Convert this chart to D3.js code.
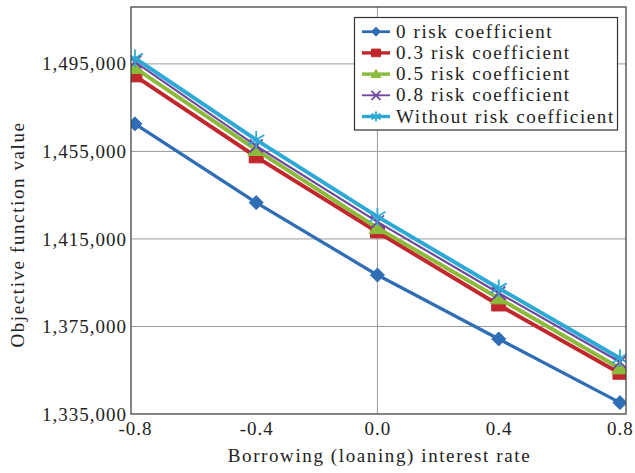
<!DOCTYPE html>
<html><head><meta charset="utf-8">
<script src="https://cdn.jsdelivr.net/npm/d3@7"></script>
<style>body{margin:0;background:#fff}svg{display:block}text{font-family:"Liberation Serif",serif;fill:#222}</style>
</head><body>
<svg id="c" width="635" height="473"></svg>
<script>
const xValues = [-0.8, -0.4, 0.0, 0.4, 0.8];
const seriesNames = ["0 risk coefficient","0.3 risk coefficient","0.5 risk coefficient","0.8 risk coefficient","Without risk coefficient"];
const risk0 =      [1467600, 1431600, 1398500, 1369300, 1340200];
const risk03 =     [1489500, 1452500, 1418200, 1384800, 1353600];
const risk05 =     [1493200, 1455700, 1420000, 1387900, 1355900];
const risk08 =     [1495900, 1457500, 1422800, 1390300, 1358800];
const riskNone =   [1497600, 1460300, 1425200, 1392500, 1360500];
const yTicks = [1335000, 1375000, 1415000, 1455000, 1495000];
const xTicks = [-0.8, -0.4, 0.0, 0.4, 0.8];

const colors = ["#2f6db5","#c1272d","#8cbb3c","#7048a0","#2ca9d4"];
const markers = ["diamond","square","triangle","cross","star"];
const widths = [3.3, 4, 4, 2.2, 4];
const allSeries = [risk0, risk03, risk05, risk08, riskNone];

const svg = d3.select("#c");
const L=131, R=626, T=7, B=414;
const x = d3.scaleLinear().domain([-0.813, 0.82]).range([L, R]);
const y = d3.scaleLinear().domain([1335000, 1521000]).range([B, T]);

svg.append("defs").append("clipPath").attr("id","clip")
  .append("rect").attr("x",L).attr("y",T).attr("width",R-L).attr("height",B-T);

// grid
const g = svg.append("g");
g.selectAll(".hg").data(yTicks.slice(1)).join("line")
  .attr("x1",L).attr("x2",R).attr("y1",d=>y(d)).attr("y2",d=>y(d))
  .attr("stroke","#999").attr("stroke-width",1);
g.append("line").attr("x1",x(0)).attr("x2",x(0)).attr("y1",T).attr("y2",B)
  .attr("stroke","#999").attr("stroke-width",1);

// axes labels via d3 axes
const fmt = d3.format(",");
const yAxis = svg.append("g").attr("transform",`translate(${L},0)`)
  .call(d3.axisLeft(y).tickValues(yTicks).tickFormat(fmt).tickSize(0).tickPadding(4));
yAxis.select(".domain").remove();
yAxis.selectAll("text").style("font-family","Liberation Serif").style("font-size","19px")
  .style("letter-spacing","1px").attr("fill","#222");

const xAxis = svg.append("g").attr("transform",`translate(0,${B})`)
  .call(d3.axisBottom(x).tickValues(xTicks).tickFormat(d=>d3.format(".1f")(d).replace("\u2212","-")).tickSize(0).tickPadding(8));
xAxis.select(".domain").remove();
xAxis.selectAll("text").style("font-family","Liberation Serif").style("font-size","19px")
  .style("letter-spacing","1px").attr("fill","#222");

// lines
const plot = svg.append("g").attr("clip-path","url(#clip)");
const line = d3.line().x((d,i)=>x(xValues[i])).y(d=>y(d));

function markerPath(type, s){
  switch(type){
    case "diamond": return `M0,${-s}L${s},0L0,${s}L${-s},0Z`;
    case "square": return `M${-s},${-s*0.85}H${s}V${s*0.85}H${-s}Z`;
    case "triangle": return `M0,${-s}L${s*1.1},${s*0.75}L${-s*1.1},${s*0.75}Z`;
    case "cross": return `M${-s},${-s}L${s},${s}M${-s},${s}L${s},${-s}`;
    case "star": return `M${-s},${-s*0.6}L${s},${s*0.6}M${-s},${s*0.6}L${s},${-s*0.6}M0,${-s*1.1}V${s*1.1}`;
  }
}
function drawMarker(sel, i, s){
  const t = markers[i];
  const open = (t==="cross"||t==="star");
  sel.append("path").attr("d",markerPath(t,s))
    .attr("fill", open?"none":colors[i])
    .attr("stroke",colors[i]).attr("stroke-width", open?1.8:1)
    .attr("stroke-linejoin","miter");
}
const msize = [7, 7, 7.5, 6.5, 8];
allSeries.forEach((vals,i)=>{
  plot.append("path").datum(vals).attr("d",line).attr("fill","none")
    .attr("stroke",colors[i]).attr("stroke-width",widths[i]).attr("stroke-linejoin","round");
  vals.forEach((v,j)=>{
    const m = plot.append("g").attr("transform",`translate(${x(xValues[j])},${y(v)})`);
    drawMarker(m,i,msize[i]);
  });
});

// frame
svg.append("rect").attr("x",L).attr("y",T).attr("width",R-L).attr("height",B-T)
  .attr("fill","none").attr("stroke","#444").attr("stroke-width",1.3);

// axis titles
svg.append("text").attr("x",(L+R)/2 + 1).attr("y",462).attr("text-anchor","middle")
  .style("font-size","19px").style("letter-spacing","1.6px")
  .text("Borrowing (loaning) interest rate");
svg.append("text").attr("transform",`translate(24,${(T+B)/2+24}) rotate(-90)`).attr("text-anchor","middle")
  .style("font-size","19px").style("letter-spacing","1.6px")
  .text("Objective function value");

// legend
const lg = svg.append("g");
lg.append("rect").attr("x",354.5).attr("y",17.5).attr("width",263).attr("height",112.5)
  .attr("fill","#fff").attr("stroke","#333").attr("stroke-width",1.2);
seriesNames.forEach((name,i)=>{
  const cy = 31.7 + i*21.2;
  lg.append("line").attr("x1",362).attr("x2",390).attr("y1",cy).attr("y2",cy)
    .attr("stroke",colors[i]).attr("stroke-width",widths[i]*0.85);
  const m = lg.append("g").attr("transform",`translate(376,${cy})`);
  drawMarker(m,i,4.5);
  lg.append("text").attr("x",396).attr("y",cy+6).style("font-size","19px")
    .style("letter-spacing","1.6px").text(name);
});
</script>
</body></html>
